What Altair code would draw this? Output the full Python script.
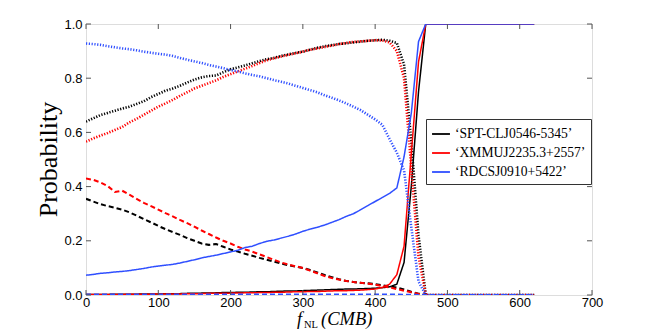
import altair as alt
import pandas as pd

# ---------------- data ----------------
f_nl = [0, 10, 20, 30, 40, 50, 60, 70, 80, 90, 100, 110, 120, 130, 140, 150, 160, 170, 180, 190,
        200, 210, 220, 230, 240, 250, 260, 270, 280, 290, 300, 310, 320, 330, 340, 350, 360, 370, 380, 390,
        400, 410, 420, 430, 440, 450, 460, 470, 480, 490, 500, 510, 520, 530, 540, 550, 560, 570, 580, 590,
        600, 610, 620]

clusters = ["‘SPT-CLJ0546-5345’", "‘XMMUJ2235.3+2557’", "‘RDCSJ0910+5422’"]
cluster_colors = ["#000000", "#ff0000", "#2f4fff"]

tail_one = [1.0, 1.0, 1.0, 1.0, 1.0, 1.0, 1.0, 1.0, 1.0, 1.0, 1.0, 1.0, 1.0, 1.0, 1.0]
tail_zero = [0.0, 0.0, 0.0, 0.0, 0.0, 0.0, 0.0, 0.0, 0.0, 0.0, 0.0, 0.0, 0.0, 0.0, 0.0]

# SPT-CLJ0546-5345 (black)
spt_solid = [0.002, 0.002, 0.002, 0.002, 0.003, 0.003, 0.003, 0.003, 0.004, 0.004, 0.004, 0.005, 0.005, 0.005,
             0.006, 0.006, 0.007, 0.007, 0.008, 0.009, 0.009, 0.010, 0.010, 0.011, 0.012, 0.012, 0.013, 0.014,
             0.015, 0.015, 0.016, 0.017, 0.018, 0.019, 0.020, 0.021, 0.022, 0.022, 0.023, 0.024, 0.025, 0.027,
             0.030, 0.040, 0.120, 0.400, 0.750, 1.0] + tail_one
spt_dashed = [0.355, 0.345, 0.335, 0.328, 0.322, 0.315, 0.305, 0.293, 0.280, 0.268, 0.255, 0.243, 0.232, 0.222,
              0.210, 0.200, 0.190, 0.185, 0.188, 0.178, 0.168, 0.160, 0.152, 0.145, 0.137, 0.130, 0.123, 0.116,
              0.110, 0.105, 0.100, 0.092, 0.083, 0.074, 0.066, 0.058, 0.052, 0.048, 0.045, 0.043, 0.040, 0.036,
              0.032, 0.027, 0.020, 0.012, 0.005, 0.0] + tail_zero
spt_dotted = [0.640, 0.652, 0.664, 0.672, 0.680, 0.688, 0.695, 0.705, 0.715, 0.730, 0.742, 0.754, 0.762, 0.772,
              0.784, 0.795, 0.803, 0.808, 0.810, 0.822, 0.833, 0.840, 0.847, 0.855, 0.863, 0.870, 0.875, 0.882,
              0.888, 0.893, 0.898, 0.905, 0.912, 0.918, 0.922, 0.926, 0.929, 0.932, 0.935, 0.938, 0.940, 0.942,
              0.938, 0.930, 0.850, 0.570, 0.220, 0.0] + tail_zero

# XMMUJ2235.3+2557 (red)
xmm_solid = [0.002, 0.002, 0.002, 0.002, 0.002, 0.002, 0.003, 0.003, 0.003, 0.003, 0.004, 0.004, 0.004, 0.004,
             0.005, 0.005, 0.005, 0.006, 0.006, 0.006, 0.007, 0.007, 0.008, 0.008, 0.009, 0.009, 0.010, 0.010,
             0.011, 0.012, 0.012, 0.013, 0.013, 0.014, 0.015, 0.016, 0.016, 0.017, 0.018, 0.020, 0.022, 0.028,
             0.040, 0.075, 0.180, 0.520, 0.860, 1.0] + tail_one
xmm_dashed = [0.430, 0.425, 0.415, 0.402, 0.380, 0.385, 0.370, 0.355, 0.340, 0.328, 0.315, 0.302, 0.290, 0.277,
              0.265, 0.252, 0.238, 0.225, 0.212, 0.200, 0.190, 0.178, 0.168, 0.160, 0.150, 0.140, 0.130, 0.120,
              0.112, 0.106, 0.100, 0.090, 0.080, 0.070, 0.063, 0.057, 0.052, 0.048, 0.045, 0.042, 0.038, 0.033,
              0.028, 0.022, 0.016, 0.010, 0.004, 0.0] + tail_zero
xmm_dotted = [0.566, 0.578, 0.588, 0.598, 0.609, 0.620, 0.637, 0.650, 0.665, 0.680, 0.695, 0.707, 0.720, 0.735,
              0.748, 0.762, 0.772, 0.782, 0.792, 0.805, 0.815, 0.825, 0.835, 0.845, 0.856, 0.866, 0.873, 0.880,
              0.886, 0.892, 0.898, 0.905, 0.910, 0.915, 0.920, 0.926, 0.930, 0.934, 0.936, 0.938, 0.940, 0.939,
              0.932, 0.900, 0.800, 0.470, 0.140, 0.0] + tail_zero

# RDCSJ0910+5422 (blue)
rdc_solid = [0.073, 0.076, 0.080, 0.082, 0.085, 0.087, 0.090, 0.094, 0.098, 0.103, 0.107, 0.110, 0.113, 0.118,
             0.124, 0.130, 0.137, 0.142, 0.147, 0.153, 0.159, 0.165, 0.175, 0.180, 0.190, 0.198, 0.203, 0.210,
             0.217, 0.225, 0.235, 0.243, 0.250, 0.258, 0.268, 0.278, 0.290, 0.300, 0.315, 0.330, 0.345, 0.360,
             0.375, 0.395, 0.510, 0.670, 0.935, 1.0] + tail_one
rdc_dashed = [0.002, 0.002, 0.002, 0.002, 0.002, 0.002, 0.002, 0.002, 0.002, 0.002, 0.002, 0.002, 0.002, 0.002,
              0.002, 0.002, 0.002, 0.002, 0.002, 0.002, 0.002, 0.002, 0.002, 0.002, 0.002, 0.002, 0.002, 0.002,
              0.002, 0.002, 0.002, 0.002, 0.002, 0.002, 0.002, 0.002, 0.002, 0.002, 0.002, 0.002, 0.002, 0.002,
              0.002, 0.002, 0.001, 0.001, 0.0, 0.0] + tail_zero
rdc_dotted = [0.928, 0.926, 0.923, 0.918, 0.914, 0.910, 0.907, 0.903, 0.898, 0.894, 0.890, 0.887, 0.882, 0.875,
              0.868, 0.862, 0.856, 0.849, 0.843, 0.837, 0.830, 0.825, 0.818, 0.812, 0.807, 0.800, 0.793, 0.787,
              0.780, 0.772, 0.764, 0.756, 0.748, 0.737, 0.728, 0.718, 0.707, 0.695, 0.682, 0.665, 0.648, 0.628,
              0.575, 0.525, 0.460, 0.250, 0.050, 0.0] + tail_zero

x_ticks = [0, 100, 200, 300, 400, 500, 600, 700]
y_ticks = [0, 0.2, 0.4, 0.6, 0.8, 1.0]

styles = ["solid", "dashed", "dotted"]
series = {
    clusters[0]: [spt_solid, spt_dashed, spt_dotted],
    clusters[1]: [xmm_solid, xmm_dashed, xmm_dotted],
    clusters[2]: [rdc_solid, rdc_dashed, rdc_dotted],
}

rows = []
for ci, name in enumerate(clusters):
    for si, st in enumerate(styles):
        for f, p in zip(f_nl, series[name][si]):
            rows.append({"f": f, "p": p, "cluster": name, "style": st, "grp": f"{ci}{si}"})
df = pd.DataFrame(rows)

W, H = 506, 271

xscale = alt.Scale(domain=[0, 700], nice=False, zero=False)
yscale = alt.Scale(domain=[0, 1], nice=False)

lines = alt.Chart(df).mark_line(clip=True).encode(
    x=alt.X("f:Q", scale=xscale,
            axis=alt.Axis(values=x_ticks, title=None, domain=False, ticks=False, grid=False,
                          labelFont="Liberation Sans", labelFontSize=13, labelColor="#000",
                          labelPadding=1, labelFlush=False)),
    y=alt.Y("p:Q", scale=yscale,
            axis=alt.Axis(values=y_ticks, title="Probability", domain=False, ticks=False, grid=False,
                          labelFont="Liberation Sans", labelFontSize=13, labelColor="#000",
                          labelPadding=4, labelFlush=False,
                          titleFont="Liberation Serif", titleFontSize=26, titleFontWeight="normal",
                          titleColor="#000", titleX=-30, titleY=135, titleAngle=270,
                          titleBaseline="alphabetic", titleAlign="center")),
    color=alt.Color("cluster:N", scale=alt.Scale(domain=clusters, range=cluster_colors),
                    legend=alt.Legend(title=None, orient="none", legendX=340, legendY=95,
                                      padding=5, strokeColor="#333", fillColor="#ffffff",
                                      symbolType="stroke", symbolSize=320, symbolStrokeWidth=1.8,
                                      labelFont="Liberation Serif", labelFontSize=13.6,
                                      labelOffset=4, rowPadding=2, labelLimit=400,
                                      labelColor="#000")),
    strokeDash=alt.StrokeDash("style:N", scale=alt.Scale(domain=styles, range=[[1, 0], [5, 3], [1.2, 1.6]]),
                              legend=None),
    strokeWidth=alt.StrokeWidth("style:N", scale=alt.Scale(domain=styles, range=[1.5, 2.6, 1.8]),
                                legend=None),
    opacity=alt.Opacity("style:N", scale=alt.Scale(domain=styles, range=[1.0, 1.0, 0.45]), legend=None),
    detail="grp:N",
)

xt = pd.DataFrame({"f": x_ticks})
yt = pd.DataFrame({"p": y_ticks})
tick_color = "#555"
bottom_ticks = alt.Chart(xt).mark_rule(color=tick_color, strokeWidth=1).encode(
    x=alt.X("f:Q", scale=xscale), y=alt.value(H), y2=alt.value(H - 5))
top_ticks = alt.Chart(xt).mark_rule(color=tick_color, strokeWidth=1).encode(
    x=alt.X("f:Q", scale=xscale), y=alt.value(0), y2=alt.value(5))
left_ticks = alt.Chart(yt).mark_rule(color=tick_color, strokeWidth=1).encode(
    y=alt.Y("p:Q", scale=yscale), x=alt.value(0), x2=alt.value(5))
right_ticks = alt.Chart(yt).mark_rule(color=tick_color, strokeWidth=1).encode(
    y=alt.Y("p:Q", scale=yscale), x=alt.value(W - 5), x2=alt.value(W))

title_df = pd.DataFrame({"a": [1]})
t_f = alt.Chart(title_df).mark_text(font="Liberation Serif", fontStyle="italic", fontSize=18,
                                    align="left", baseline="alphabetic", color="#000").encode(
    x=alt.value(211), y=alt.value(301), text=alt.value("f"))
t_nl = alt.Chart(title_df).mark_text(font="Liberation Serif", fontSize=10.5,
                                     align="left", baseline="alphabetic", color="#000").encode(
    x=alt.value(218), y=alt.value(304), text=alt.value("NL"))
t_cmb = alt.Chart(title_df).mark_text(font="Liberation Serif", fontStyle="italic", fontSize=18.5,
                                      align="left", baseline="alphabetic", color="#000").encode(
    x=alt.value(235), y=alt.value(301), text=alt.value("(CMB)"))

chart = alt.layer(
    lines, bottom_ticks, top_ticks, left_ticks, right_ticks, t_f, t_nl, t_cmb
).resolve_scale(x="shared", y="shared").properties(
    width=W, height=H,
    autosize=alt.AutoSizeParams(type="none"),
    padding={"left": 78, "top": 16, "right": 40, "bottom": 36},
).configure_view(stroke="#555", strokeWidth=1).configure(background="white")

chart.save("out.html", embed_options={"renderer": "svg", "actions": False})
